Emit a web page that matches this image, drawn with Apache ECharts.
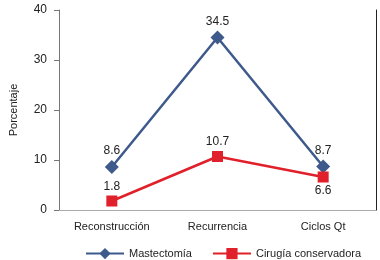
<!DOCTYPE html>
<html><head><meta charset="utf-8">
<script src="https://cdn.jsdelivr.net/npm/echarts@6/dist/echarts.min.js"></script>
<style>html,body{margin:0;padding:0;background:#fff}#c{width:380px;height:260px}</style>
</head><body><div id="c"></div>
<script>
var categories = ['Reconstrucción', 'Recurrencia', 'Ciclos Qt'];
var mastectomia = [8.6, 34.5, 8.7];
var cirugia = [1.8, 10.7, 6.6];
var yTicks = [0, 10, 20, 30, 40];

var font = 'Liberation Sans, Arial, sans-serif';
var chart = echarts.init(document.getElementById('c'));
chart.setOption({
  animation: false,
  textStyle: {fontFamily: font},
  grid: {left: 57, right: 4, top: 10, bottom: 50},
  xAxis: [{
    type: 'category', data: categories, boundaryGap: true,
    axisLine: {lineStyle: {color: '#555', width: 1}},
    axisTick: {show: false},
    axisLabel: {color: '#222', fontSize: 11, margin: 11, fontFamily: font}
  }, {
    type: 'category', data: categories, position: 'top',
    axisLine: {lineStyle: {color: '#aaa', width: 1}},
    axisTick: {show: false}, axisLabel: {show: false}
  }],
  yAxis: [{
    type: 'value', min: yTicks[0], max: yTicks[yTicks.length - 1], interval: 10,
    name: 'Porcentaje', nameLocation: 'middle', nameGap: 40, nameRotate: 90,
    nameTextStyle: {color: '#222', fontSize: 11, fontFamily: font},
    axisLine: {show: true, lineStyle: {color: '#777', width: 1}},
    axisTick: {show: true, inside: false, length: 5, lineStyle: {color: '#777'}},
    axisLabel: {color: '#222', fontSize: 12, margin: 12, fontFamily: font},
    splitLine: {show: false}
  }, {
    type: 'value', min: 0, max: 40, interval: 10, position: 'right',
    axisLine: {show: true, lineStyle: {color: '#222', width: 1}},
    axisTick: {show: false}, axisLabel: {show: false}, splitLine: {show: false}
  }],
  legend: {
    top: 243, left: 80, itemGap: 20, itemWidth: 38, itemHeight: 14,
    textStyle: {color: '#222', fontSize: 11, fontFamily: font},
    data: ['Mastectomía', 'Cirugía conservadora']
  },
  series: [{
    name: 'Mastectomía', type: 'line', data: mastectomia,
    symbol: 'diamond', symbolSize: 14,
    lineStyle: {color: '#3e5a8c', width: 2.5},
    itemStyle: {color: '#3e5a8c'},
    label: {show: true, position: 'top', distance: 3, color: '#222', fontSize: 12, fontFamily: font}
  }, {
    name: 'Cirugía conservadora', type: 'line', data: cirugia,
    symbol: 'rect', symbolSize: 11,
    lineStyle: {color: '#e0202b', width: 2.5},
    itemStyle: {color: '#e0202b'},
    label: {show: true, position: 'top', distance: 3, color: '#222', fontSize: 12, fontFamily: font},
    labelLayout: function (p) {
      if (p.dataIndex === 2) return {dy: 28};
      return {};
    }
  }]
});
</script></body></html>
